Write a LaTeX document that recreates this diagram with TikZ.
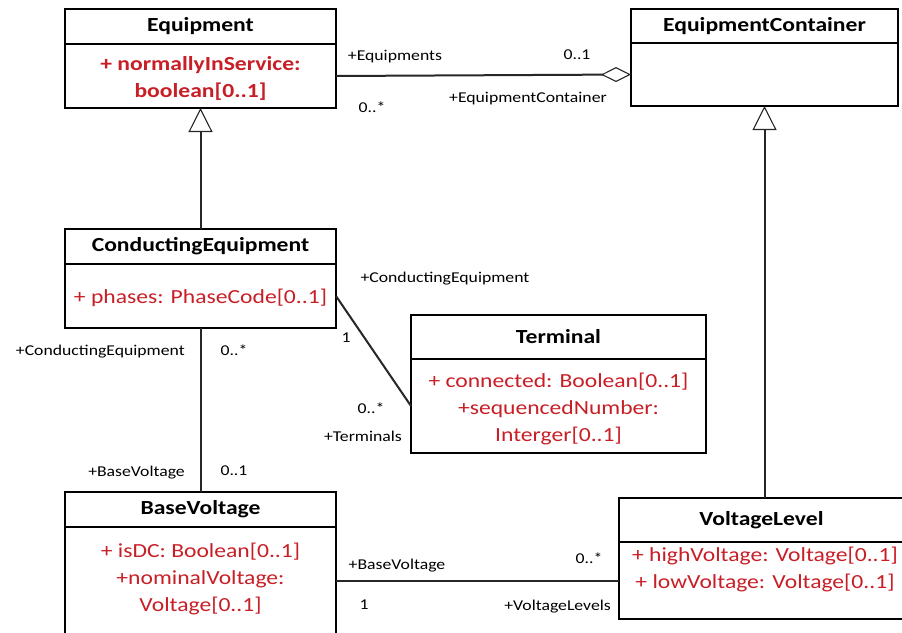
\documentclass[tikz,border=0pt]{standalone}
\usepackage{fontspec}
\setmainfont[FakeStretch=1.18]{Carlito}
\usepackage{xcolor}
\usetikzlibrary{positioning,arrows.meta}
\definecolor{attrred}{RGB}{200,30,38}
\tikzset{
	head/.style={draw, line width=2.5pt, inner sep=0pt, outer sep=0pt, minimum height=35pt,
			font=\fontsize{20}{24}\selectfont\bfseries},
	body/.style={draw, line width=2.5pt, inner sep=0pt, outer sep=0pt},
	attr/.style={text=attrred, align=center, inner sep=0pt, font=\fontsize{20}{27}\selectfont},
	lbl/.style={inner sep=0pt, font=\fontsize{15}{18}\selectfont},
	conn/.style={line width=2pt, draw=black!85},
	inherit/.style={conn, -{Triangle[open, length=24pt, width=24pt, line width=1.1pt]}},
	aggr/.style={conn, -{Diamond[open, length=30pt, width=15pt, line width=1.1pt]}}
}

\begin{document}
\begin{tikzpicture}[x=1pt, y=-1pt]
        \useasboundingbox (0,0) rectangle (902,632);
        \node[head, minimum width=271pt] (eqh) at (200.5, 26.5) {Equipment};
        \node[body, minimum width=271pt, minimum height=64pt, below=0pt of eqh] (eqb) {};
        \node[attr, font=\fontsize{20}{27}\selectfont\bfseries] (eqattr) at (200.5, 78.5) {+ normallyInService:\\boolean[0..1]};

        \node[head, minimum width=267pt, minimum height=34pt] (ech) at (764.5, 26) {EquipmentContainer};
        \node[body, minimum width=267pt, minimum height=63pt, below=0pt of ech] (ecb) {};

        \node[head, minimum width=271pt] (ceh) at (200.5, 246.5) {ConductingEquipment};
        \node[body, minimum width=271pt, minimum height=64pt, below=0pt of ceh] (ceb) {};
        \node[attr] (ceattr) at (200.5, 298) {+ phases: PhaseCode[0..1]};

        \node[head, minimum width=295pt, minimum height=44pt] (terh) at (558.5, 337) {Terminal};
        \node[body, minimum width=295pt, minimum height=94pt, below=0pt of terh] (terb) {};
        \node[attr] (terattr) at (558.5, 408.5) {+ connected: Boolean[0..1]\\+sequencedNumber:\\Interger[0..1]};

        \node[head, minimum width=271pt] (bvh) at (200.5, 509.5) {BaseVoltage};
        \node[body, minimum width=271pt, minimum height=118pt, below=0pt of bvh] (bvb) {};
        \node[attr] (bvattr) at (200.5, 579) {+ isDC: Boolean[0..1]\\+nominalVoltage:\\Voltage[0..1]};

        \node[head, minimum width=285pt, minimum height=44pt] (vlh) at (761.5, 520) {VoltageLevel};
        \node[body, minimum width=285pt, minimum height=77pt, below=0pt of vlh] (vlb) {};
        \node[attr] (vlattr) at (765, 569) {+ highVoltage: Voltage[0..1]\\+ lowVoltage: Voltage[0..1]};

        \draw[aggr] (eqb.east) -- (ecb.west);
        \draw[inherit] (ceh.north) -- (eqb.south);
        \draw[inherit] (ecb.south |- vlh.north) -- (ecb.south);
        \draw[conn] (ceb.east) -- (terb.west);
        \draw[conn] (ceb.south) -- (bvh.north);
        \draw[conn] (vlb.west -| bvb.east) -- (vlb.west);

        \node[lbl] (l1) at (395, 57) {+Equipments};
        \node[lbl] (l2) at (372, 107) {0..*};
        \node[lbl] (l3) at (577, 55) {0..1};
        \node[lbl] (l4) at (528, 99) {+EquipmentContainer};
        \node[lbl] (l5) at (445, 279) {+ConductingEquipment};
        \node[lbl] (l6) at (346, 338) {1};
        \node[lbl] (l7) at (371, 408) {0..*};
        \node[lbl] (l8) at (363, 436) {+Terminals};
        \node[lbl, anchor=east] (l9) at (185, 352) {+ConductingEquipment};
        \node[lbl] (l10) at (234, 350) {0..*};
        \node[lbl, anchor=east] (l11) at (185, 473) {+BaseVoltage};
        \node[lbl] (l12) at (234, 471) {0..1};
        \node[lbl] (l13) at (397, 566) {+BaseVoltage};
        \node[lbl] (l14) at (364, 605) {1};
        \node[lbl] (l15) at (589, 558) {0..*};
        \node[lbl, anchor=east] (l16) at (611, 607) {+VoltageLevels};
    \end{tikzpicture}
\end{document}
